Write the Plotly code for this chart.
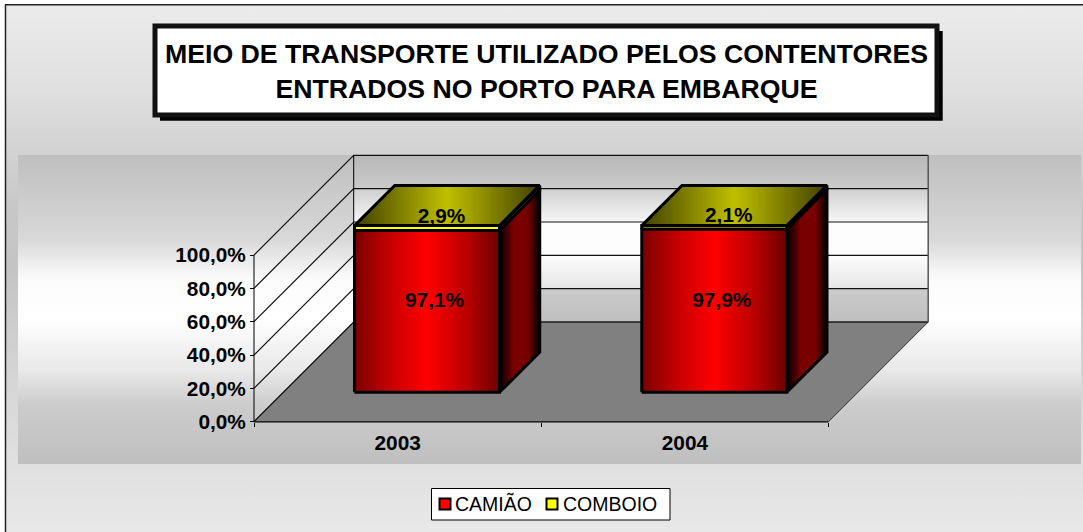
import plotly.graph_objects as go

# ---- chart data ----
categories = ["2003", "2004"]
camiao = [97.1, 97.9]
comboio = [2.9, 2.1]
series_names = ["CAMIÃO", "COMBOIO"]
y_ticks = [0, 20, 40, 60, 80, 100]
title_text = "MEIO DE TRANSPORTE UTILIZADO PELOS CONTENTORES<br>ENTRADOS NO PORTO PARA EMBARQUE"

# ---- geometry of the oblique projection ----
W, H = 1083, 532
ORIGIN_X, ORIGIN_Y = 254.0, 421.7
PX_PER_CAT = 287.25
PX_PER_PCT = 1.667
DEPTH_PX = 99.7
BAR_HALF = 72.5 / PX_PER_CAT
BAR_D0, BAR_D1 = 29.4 / DEPTH_PX, 69.6 / DEPTH_PX
FONT = "Liberation Sans"


def px(xp):
    return (xp - ORIGIN_X) / PX_PER_CAT


def py(yp):
    return (ORIGIN_Y - yp) / PX_PER_PCT


def proj(c, v, d):
    return c + d * DEPTH_PX / PX_PER_CAT, v + d * DEPTH_PX / PX_PER_PCT


def hexscale(stops):
    return [[p, c] for p, c in stops]


fig = go.Figure()


def poly(points, fill=None, grad=None, gtype="horizontal", line=None, lw=1):
    xs = [p[0] for p in points] + [points[0][0]]
    ys = [p[1] for p in points] + [points[0][1]]
    kw = dict(x=xs, y=ys, mode="lines", fill="toself", showlegend=False, hoverinfo="skip",
              line=dict(color=line or "rgba(0,0,0,0)", width=lw if line else 0))
    if grad:
        kw["fillgradient"] = dict(type=gtype, colorscale=hexscale(grad))
    else:
        kw["fillcolor"] = fill
    fig.add_trace(go.Scatter(**kw))


def seg(points, color="#000", lw=1):
    fig.add_trace(go.Scatter(x=[p[0] for p in points], y=[p[1] for p in points], mode="lines",
                             line=dict(color=color, width=lw), showlegend=False, hoverinfo="skip"))


def rect_px(x0, y0, x1, y1):
    return [(px(x0), py(y0)), (px(x1), py(y0)), (px(x1), py(y1)), (px(x0), py(y1))]


# page and band backgrounds
poly(rect_px(5, 5, W, H), grad=[(0, "#e8e8e8"), (0.28, "#d6d6d6"), (0.5, "#c4c4c4"), (0.62, "#c8c8c8"),
                                (0.87, "#e2e2e2"), (1, "#ebebeb")], gtype="vertical")
poly(rect_px(18, 155, 1081, 464), grad=[(0, "#bfbfbf"), (0.19, "#cccccc"), (0.3, "#e8e8e8"), (0.47, "#ffffff"),
                                        (0.6, "#fbfbfb"), (0.73, "#d8d8d8"), (1, "#bfbfbf")], gtype="vertical")

n = len(categories)
# back wall (vertical gradient runs top -> bottom of the wall)
poly([proj(0, 0, 1), proj(n, 0, 1), proj(n, 100, 1), proj(0, 100, 1)],
     grad=[(0, "#bfbfbf"), (0.198, "#cbcbcb"), (0.202, "#e6e6e6"), (0.4, "#fdfdfd"), (0.6, "#fcfcfc"),
           (0.603, "#f6f6f6"), (0.795, "#d0d0d0"), (0.805, "#cacaca"), (1, "#b8b8b8")], gtype="vertical")
# floor
poly([proj(0, 0, 0), proj(n, 0, 0), proj(n, 0, 1), proj(0, 0, 1)], fill="#808080", line="#333333", lw=1)

# grid lines on the side and back walls
for t in y_ticks:
    seg([proj(0, t, 0), proj(0, t, 1), proj(n, t, 1)], color="#111111", lw=1.2)
# wall edges
seg([proj(0, 0, 1), proj(0, 100, 1)], color="#000", lw=1)
seg([proj(n, 0, 1), proj(n, 100, 1)], color="#555555", lw=1.5)
# axis lines
seg([proj(0, 0, 0), proj(0, 100, 0)], color="#000", lw=1)
seg([proj(0, 0, 0), proj(n, 0, 0)], color="#222222", lw=1.5)

RED_FRONT = [(0, "#7a0000"), (0.25, "#c80000"), (0.5, "#ff0000"), (0.75, "#c00000"), (1, "#6e0000")]
RED_SIDE = [(0, "#000000"), (0.35, "#7a0000"), (0.7, "#7a0000"), (1, "#000000")]
YEL_SIDE = [(0, "#333300"), (0.5, "#808000"), (1, "#333300")]
YEL_TOP = [(0, "#404000"), (0.5, "#c0c000"), (1, "#404000")]

for i in range(n):
    c = i + 0.5
    xl, xr = c - BAR_HALF, c + BAR_HALF
    base = 0
    for vals, front, side in ((camiao, RED_FRONT, RED_SIDE), (comboio, None, YEL_SIDE)):
        v0, v1 = base, base + vals[i]
        poly([proj(xr, v0, BAR_D0), proj(xr, v0, BAR_D1), proj(xr, v1, BAR_D1), proj(xr, v1, BAR_D0)],
             grad=side, line="#000", lw=3)
        poly([proj(xl, v0, BAR_D0), proj(xr, v0, BAR_D0), proj(xr, v1, BAR_D0), proj(xl, v1, BAR_D0)],
             grad=front, fill="#ffff00", line="#000", lw=3)
        base = v1
    poly([proj(xl, base, BAR_D0), proj(xr, base, BAR_D0), proj(xr, base, BAR_D1), proj(xl, base, BAR_D1)],
         grad=YEL_TOP, line="#000", lw=3)


def fmt(v):
    return f"{v:.1f}".replace(".", ",") + "%"


# data labels (nudge = small vertical label offset, in percent units)
for vals, start, depth, nudge in ((camiao, [0, 0], 0.37, 1.0), (comboio, camiao, 0.44, -2.4)):
    pts = [proj(i + 0.5, start[i] + vals[i] / 2 + nudge, depth) for i in range(n)]
    fig.add_trace(go.Scatter(x=[p[0] for p in pts], y=[p[1] for p in pts], mode="text",
                             text=[fmt(v) for v in vals], textposition="middle center",
                             textfont=dict(family=FONT, size=20.8, color="#000", weight="bold"),
                             showlegend=False, hoverinfo="skip"))

# legend entries (the legends supply the names; the swatches are set tight to them below)
for name, leg in zip(series_names, ["legend", "legend2"]):
    fig.add_trace(go.Scatter(x=[None], y=[None], mode="markers", name=name, legend=leg,
                             marker=dict(symbol="square", size=1, color="rgba(0,0,0,0)",
                                         line=dict(color="rgba(0,0,0,0)", width=0))))


def fx(xp):
    return xp / W


def fy(yp):
    return 1 - yp / H


shapes = [
    dict(type="line", xref="paper", yref="paper", x0=fx(5.5), x1=fx(5.5), y0=fy(4.5), y1=fy(H),
         line=dict(color="#222222", width=1.5)),
    dict(type="line", xref="paper", yref="paper", x0=fx(5), x1=fx(W), y0=fy(4.8), y1=fy(4.8),
         line=dict(color="#222222", width=1.5)),
    dict(type="rect", xref="paper", yref="paper", x0=fx(160), x1=fx(942.7), y0=fy(31), y1=fy(120.7),
         fillcolor="#000", line=dict(width=0)),
    dict(type="rect", xref="paper", yref="paper", x0=fx(155), x1=fx(937), y0=fy(26), y1=fy(115),
         fillcolor="#fff", line=dict(color="#111", width=5)),
    dict(type="rect", xref="paper", yref="paper", x0=fx(431.5), x1=fx(670), y0=fy(488.5), y1=fy(520),
         fillcolor="#fff", line=dict(color="#000", width=1)),
]
for sx, col in zip([445, 552], ["#ff0000", "#ffff00"]):
    shapes.append(dict(type="rect", xref="paper", yref="paper", x0=fx(sx - 5.5), x1=fx(sx + 5.5),
                       y0=fy(498.5), y1=fy(509.5), fillcolor=col, line=dict(color="#000", width=2)))

legend_common = dict(orientation="h", y=fy(484.5), xanchor="left", yanchor="top",
                     bgcolor="rgba(0,0,0,0)", borderwidth=0,
                     font=dict(family=FONT, size=19.5, color="#000"))

fig.update_layout(
    width=W, height=H, autosize=False,
    margin=dict(l=0, r=0, t=0, b=0, pad=0),
    paper_bgcolor="#ffffff", plot_bgcolor="rgba(0,0,0,0)",
    shapes=shapes,
    hovermode=False,
    title=dict(text=title_text, x=fx(546.5), y=fy(63), xref="paper", yref="paper",
               xanchor="center", yanchor="middle",
               font=dict(family=FONT, size=26.7, color="#000", weight="bold")),
    xaxis=dict(range=[px(0), px(W)], anchor="free", position=fy(ORIGIN_Y), domain=[0, 1],
               showgrid=False, zeroline=False, showline=False,
               tickmode="array", tickvals=[i + 0.5 for i in range(n)], ticktext=categories,
               ticks="", ticklabelstandoff=6,
               tickfont=dict(family=FONT, size=20.8, color="#000", weight="bold"),
               minor=dict(tickmode="array", tickvals=list(range(n + 1)), ticks="outside", ticklen=4,
                          tickwidth=1, tickcolor="#000", showgrid=False)),
    yaxis=dict(range=[py(H), py(0)], anchor="free", position=fx(ORIGIN_X), domain=[0, 1],
               showgrid=False, zeroline=False, showline=False,
               tickmode="array", tickvals=y_ticks, ticktext=[fmt(t) for t in y_ticks],
               ticks="outside", ticklen=4, tickwidth=1, tickcolor="#000",
               tickfont=dict(family=FONT, size=20.8, color="#000", weight="bold")),
    legend=dict(x=fx(415), **legend_common),
    legend2=dict(x=fx(523), **legend_common),
)

fig.write_html("out.html", config={"displayModeBar": False}, post_script="document.body.style.margin='0';")
